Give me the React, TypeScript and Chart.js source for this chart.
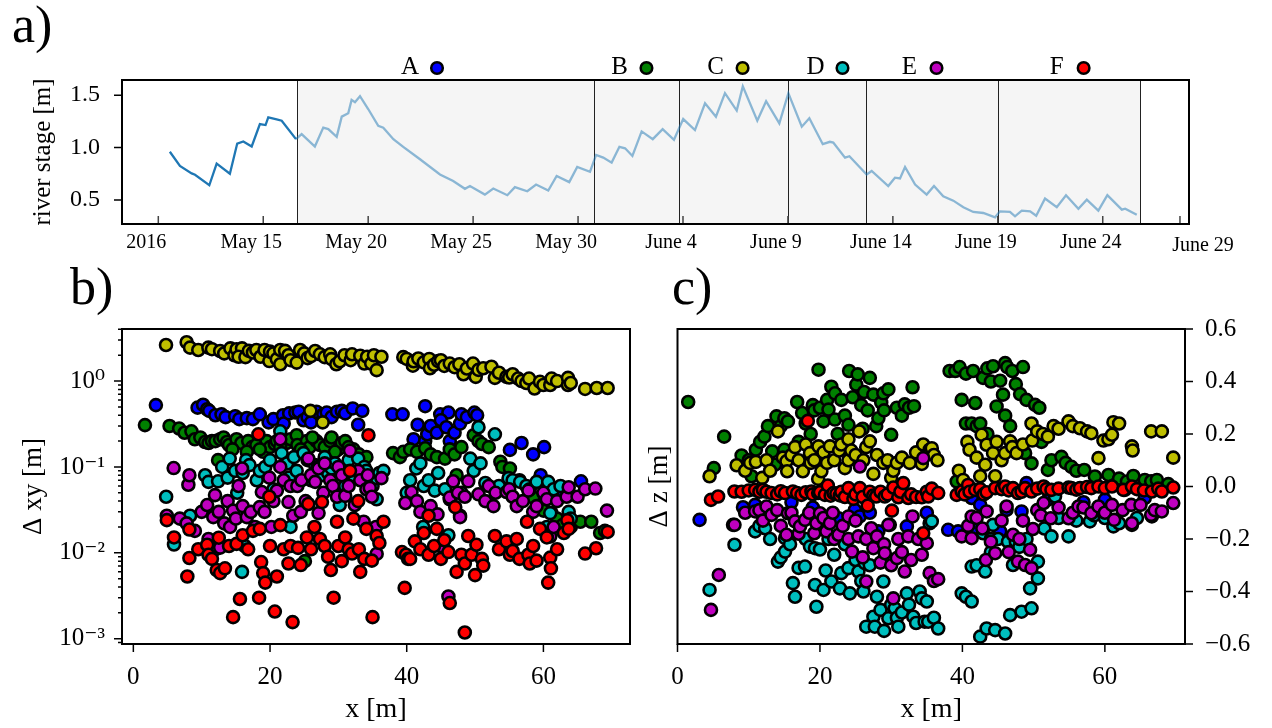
import React, { useEffect, useRef } from 'react';
import { Chart, registerables } from 'chart.js';

Chart.register(...registerables);

const FONT = "'Liberation Serif', 'DejaVu Serif', serif";

// ---------------- Panel a: river stage ----------------
// day number counted from May 1 2016 (May 31 = 31, June 1 = 32)
const stageDays = [
  10.55, 11.03, 11.59, 11.75, 12.43, 12.78, 13.41, 13.76, 14.05, 14.45, 14.84, 15.11, 15.24, 15.64, 15.88, 16.56,
  16.83, 17.46, 17.86, 18.10, 18.50, 18.74, 19.05, 19.21, 19.37, 19.61, 20.00, 20.48, 20.72, 21.20, 21.67, 22.47,
  23.42, 24.05, 24.61, 24.85, 25.56, 25.96, 26.63, 26.99, 27.58, 28.00, 28.58, 28.98, 29.58, 29.96, 30.57, 30.86,
  31.20, 31.60, 31.97, 32.24, 32.59, 33.03, 33.56, 34.03, 34.57, 35.01, 35.57, 36.05, 36.57, 37.00, 37.56, 37.85,
  38.54, 38.96, 39.59, 40.02, 40.66, 41.02, 41.66, 42.00, 42.16, 42.72, 42.93, 43.75, 43.99, 44.78, 45.10, 45.34,
  45.58, 46.06, 46.61, 46.96, 47.40, 47.88, 48.36, 48.83, 49.31, 49.87, 50.10, 50.58, 50.82, 51.14, 51.54, 51.83,
  52.25, 52.81, 53.25, 53.84, 54.24, 54.79, 55.22, 55.91, 56.07, 56.62,
];
const stageValues = [
  0.96, 0.824, 0.753, 0.74, 0.64, 0.846, 0.75, 1.038, 1.058, 1.01, 1.224, 1.215, 1.288, 1.27, 1.256, 1.08,
  1.128, 1.01, 1.19, 1.176, 1.103, 1.295, 1.327, 1.455, 1.433, 1.49, 1.368, 1.208, 1.19, 1.08, 1.007, 0.888,
  0.743, 0.68, 0.606, 0.632, 0.551, 0.609, 0.545, 0.622, 0.583, 0.647, 0.59, 0.728, 0.67, 0.814, 0.769, 0.93,
  0.904, 0.856, 1.007, 0.993, 0.92, 1.154, 1.08, 1.176, 1.074, 1.272, 1.167, 1.423, 1.295, 1.519, 1.353, 1.584,
  1.256, 1.442, 1.231, 1.519, 1.199, 1.279, 1.032, 1.055, 1.048, 0.904, 0.917, 0.743, 0.776, 0.632, 0.712, 0.705,
  0.814, 0.647, 0.551, 0.632, 0.535, 0.493, 0.43, 0.385, 0.375, 0.334, 0.391, 0.385, 0.343, 0.397, 0.391, 0.349,
  0.513, 0.43, 0.545, 0.416, 0.503, 0.397, 0.545, 0.407, 0.416, 0.359,
];
const boundaryDays = [16.61, 30.76, 34.79, 40.0, 43.72, 50.03, 56.78];
const epochNames = ['A', 'B', 'C', 'D', 'E', 'F'];
const epochColors = ['#0000ff', '#008000', '#bfbf00', '#00bfbf', '#bf00bf', '#ff0000'];
const epochLabelDays = [22.66, 32.64, 37.22, 41.98, 46.46, 53.47];
const aTickDays = [10, 15, 20, 25, 30, 35, 40, 45, 50, 55, 58.68];
const aTickLabels = ['2016', 'May 15', 'May 20', 'May 25', 'May 30', 'June 4', 'June 9', 'June 14', 'June 19', 'June 24', 'June 29'];
const aYTicks = [0.5, 1.0, 1.5];

// ---------------- Panel b: horizontal displacement (x [m], dxy [m]) ----------------
type Pt = [number, number];
const bA: Pt[] = [
  [3.3, 0.525], [9.4, 0.49], [10.2, 0.53], [10.8, 0.47], [11.1, 0.45], [12.0, 0.4], [12.9, 0.41], [13.5, 0.38], [14.9, 0.39],
  [15.5, 0.36], [16.6, 0.37], [17.5, 0.36], [18.5, 0.41], [19.8, 0.33], [20.5, 0.36], [21.9, 0.4], [22.0, 0.32], [22.8, 0.42],
  [23.7, 0.43], [24.2, 0.44], [24.9, 0.35], [25.5, 0.38], [26.0, 0.33], [26.8, 0.44], [27.8, 0.41], [28.3, 0.43], [29.0, 0.38],
  [29.8, 0.44], [30.5, 0.45], [31.0, 0.42], [32.1, 0.48], [32.9, 0.31], [33.5, 0.45], [37.9, 0.41], [39.4, 0.41], [42.7, 0.51],
  [44.9, 0.41], [46.1, 0.43], [41.6, 0.31], [41.0, 0.21], [42.7, 0.2], [43.0, 0.24], [43.5, 0.3], [44.4, 0.25], [45.0, 0.35],
  [45.8, 0.29], [46.3, 0.2], [47.0, 0.25], [47.8, 0.32], [48.0, 0.41], [48.8, 0.38], [49.9, 0.43], [50.3, 0.4], [55.1, 0.158],
  [56.8, 0.19], [58.5, 0.14], [60.1, 0.17], [59.6, 0.08], [65.5, 0.068], [62.9, 0.048],
];
const bB: Pt[] = [
  [1.7, 0.307], [5.3, 0.3], [6.7, 0.28], [7.5, 0.25], [8.5, 0.26], [9.0, 0.21], [9.8, 0.22], [10.5, 0.195], [11.0, 0.19],
  [11.5, 0.2], [12.0, 0.2], [12.7, 0.21], [13.2, 0.22], [13.7, 0.195], [14.0, 0.18], [15.1, 0.21], [15.8, 0.19], [16.8, 0.2],
  [17.4, 0.17], [18.0, 0.18], [19.0, 0.15], [19.5, 0.2], [20.0, 0.17], [20.7, 0.185], [21.0, 0.2], [12.4, 0.12], [16.6, 0.15],
  [18.5, 0.16], [22.4, 0.19], [23.0, 0.21], [23.9, 0.234], [24.0, 0.18], [25.4, 0.2], [25.8, 0.17], [26.8, 0.2], [27.3, 0.18],
  [28.0, 0.17], [28.8, 0.2], [29.0, 0.22], [30.0, 0.16], [30.5, 0.19], [31.0, 0.2], [32.2, 0.16], [33.0, 0.14], [34.1, 0.13],
  [25.1, 0.008], [21.5, 0.17], [24.5, 0.16], [26.2, 0.22], [29.5, 0.15], [31.5, 0.17], [14.5, 0.16], [38.0, 0.145], [39.0, 0.13],
  [39.5, 0.15], [40.5, 0.16], [41.5, 0.15], [42.7, 0.165], [43.5, 0.14], [44.4, 0.13], [45.6, 0.125], [46.3, 0.16], [47.0, 0.14],
  [48.0, 0.17], [49.8, 0.234], [50.5, 0.2], [51.0, 0.185], [52.0, 0.17], [53.7, 0.115], [54.0, 0.1], [55.1, 0.096], [56.5, 0.07],
  [60.0, 0.031], [61.2, 0.029], [62.0, 0.025], [64.0, 0.02], [65.4, 0.023], [67.0, 0.023], [68.3, 0.017], [69.0, 0.018],
  [62.8, 0.021], [58.5, 0.044], [47.3, 0.08],
];
const bC: Pt[] = [
  [4.78, 2.63], [7.8, 2.83], [8.3, 2.45], [9.5, 2.3], [10.98, 2.45], [11.5, 2.35], [12.7, 2.24], [13.3, 2.1], [14.2, 2.4],
  [14.8, 2.0], [15.1, 2.35], [15.9, 2.4], [15.4, 1.92], [16.4, 1.9], [16.9, 2.25], [17.5, 2.15], [18.0, 2.3], [18.6, 1.92],
  [19.2, 2.3], [19.9, 1.71], [20.0, 2.2], [20.5, 2.1], [21.0, 1.8], [21.5, 2.3], [21.5, 1.57], [22.2, 2.25], [22.7, 2.0],
  [23.0, 1.75], [23.9, 1.64], [24.4, 2.3], [25.0, 2.1], [25.5, 1.85], [26.0, 1.95], [26.6, 2.24], [27.3, 2.05], [28.0, 1.9],
  [28.8, 2.05], [29.0, 1.8], [29.7, 1.57], [30.2, 1.7], [30.9, 2.0], [31.8, 1.75], [32.0, 2.05], [33.2, 1.97], [33.8, 1.6],
  [34.2, 1.92], [34.8, 1.6], [35.2, 2.0], [35.6, 1.34], [36.3, 1.92], [39.5, 1.9], [40.0, 1.81], [40.9, 1.51], [41.0, 1.7],
  [41.7, 1.83], [42.5, 1.65], [43.3, 1.81], [43.4, 1.41], [44.0, 1.55], [44.6, 1.71], [45.0, 1.75], [45.5, 1.5], [46.3, 1.6],
  [47.0, 1.45], [47.7, 1.57], [48.3, 1.2], [48.8, 1.4], [49.7, 1.6], [50.1, 1.12], [50.5, 1.35], [51.2, 1.41], [52.4, 1.47],
  [52.9, 1.09], [53.5, 1.25], [54.6, 1.12], [55.0, 1.1], [55.5, 1.2], [56.3, 1.07], [56.8, 1.0], [57.5, 0.95], [57.9, 1.07],
  [58.7, 0.82], [59.5, 0.98], [60.0, 0.9], [61.0, 0.9], [61.2, 1.07], [62.0, 1.0], [63.6, 0.9], [63.6, 1.09], [64.0, 0.95],
  [66.1, 0.81], [67.8, 0.83], [69.4, 0.83], [25.9, 0.45], [27.7, 0.33],
];
const bD: Pt[] = [
  [4.8, 0.045], [5.95, 0.0125], [8.3, 0.027], [10.5, 0.08], [11.0, 0.067], [12.0, 0.011], [12.4, 0.068], [13.0, 0.1],
  [13.8, 0.075], [14.1, 0.125], [14.9, 0.09], [15.2, 0.05], [15.9, 0.006], [16.0, 0.085], [16.3, 0.012], [16.5, 0.12],
  [17.0, 0.105], [18.05, 0.07], [18.5, 0.09], [19.3, 0.1], [20.0, 0.12], [20.5, 0.055], [21.7, 0.145], [21.5, 0.26],
  [22.5, 0.11], [22.8, 0.075], [23.0, 0.02], [23.5, 0.13], [23.9, 0.09], [24.9, 0.145], [25.5, 0.12], [26.0, 0.07],
  [26.6, 0.105], [27.0, 0.1], [27.5, 0.08], [28.0, 0.13], [28.5, 0.085], [29.0, 0.096], [29.5, 0.11], [30.2, 0.036],
  [30.5, 0.095], [31.0, 0.06], [31.5, 0.12], [32.2, 0.08], [32.9, 0.125], [33.4, 0.07], [33.8, 0.1], [34.1, 0.09],
  [35.0, 0.06], [35.6, 0.074], [35.6, 0.042], [36.0, 0.085], [36.6, 0.09], [40.0, 0.05], [40.5, 0.07], [41.4, 0.096],
  [42.0, 0.11], [42.4, 0.02], [42.5, 0.06], [43.2, 0.07], [44.1, 0.053], [44.6, 0.085], [45.6, 0.055], [46.1, 0.016],
  [46.3, 0.042], [47.8, 0.027], [48.0, 0.05], [49.3, 0.125], [49.8, 0.09], [50.5, 0.29], [50.8, 0.11], [51.5, 0.065],
  [52.9, 0.24], [53.5, 0.06], [54.9, 0.074], [55.5, 0.07], [56.6, 0.067], [57.5, 0.06], [58.0, 0.055], [59.0, 0.067],
  [60.5, 0.02], [60.7, 0.067], [61.0, 0.029], [61.5, 0.055], [62.5, 0.06], [63.7, 0.03], [64.0, 0.025],
];
const bE: Pt[] = [
  [4.9, 0.027], [5.9, 0.097], [6.8, 0.025], [7.8, 0.022], [8.05, 0.062], [8.2, 0.08], [9.0, 0.018], [10.0, 0.03],
  [10.8, 0.036], [11.0, 0.0145], [11.7, 0.026], [11.95, 0.047], [12.5, 0.03], [12.7, 0.0115], [13.3, 0.022], [13.8, 0.04],
  [14.15, 0.02], [14.6, 0.031], [15.0, 0.025], [15.4, 0.06], [15.9, 0.096], [16.0, 0.035], [16.6, 0.026], [17.2, 0.03],
  [17.8, 0.02], [18.5, 0.034], [18.8, 0.051], [19.2, 0.03], [19.9, 0.075], [20.2, 0.02], [20.5, 0.04], [21.0, 0.053],
  [21.5, 0.1], [21.5, 0.21], [22.0, 0.07], [22.7, 0.039], [23.0, 0.06], [23.4, 0.027], [24.0, 0.06], [24.5, 0.03],
  [24.6, 0.07], [25.2, 0.04], [25.6, 0.125], [26.0, 0.08], [26.6, 0.067], [27.1, 0.096], [27.1, 0.029], [27.8, 0.05],
  [28.0, 0.11], [28.8, 0.07], [29.2, 0.06], [29.8, 0.045], [30.0, 0.1], [30.5, 0.08], [31.0, 0.046], [31.5, 0.06],
  [31.7, 0.155], [32.4, 0.036], [32.9, 0.09], [33.2, 0.07], [33.7, 0.023], [34.1, 0.055], [34.3, 0.08], [34.6, 0.057],
  [34.9, 0.045], [35.5, 0.02], [35.6, 0.0097], [36.3, 0.074], [39.8, 0.038], [40.7, 0.051], [41.5, 0.04], [42.0, 0.03],
  [43.5, 0.035], [44.5, 0.028], [45.0, 0.012], [46.1, 0.0031], [46.3, 0.044], [46.8, 0.068], [47.5, 0.05], [47.8, 0.026],
  [48.5, 0.045], [49.0, 0.068], [50.5, 0.048], [51.5, 0.04], [52.0, 0.06], [52.7, 0.035], [53.0, 0.05], [54.6, 0.051],
  [55.0, 0.055], [55.5, 0.045], [56.1, 0.035], [57.0, 0.04], [57.8, 0.053], [58.5, 0.03], [59.0, 0.035], [60.0, 0.05],
  [60.5, 0.042], [61.0, 0.0155], [61.5, 0.02], [62.0, 0.04], [63.4, 0.045], [63.7, 0.058], [65.0, 0.045], [66.1, 0.055],
  [67.6, 0.056], [69.3, 0.031],
];
const bF: Pt[] = [
  [4.9, 0.024], [5.95, 0.0151], [8.2, 0.0187], [8.2, 0.0087], [7.9, 0.0053], [9.5, 0.011], [10.8, 0.0124], [11.0, 0.0095],
  [11.5, 0.0085], [12.2, 0.0063], [12.5, 0.015], [12.7, 0.0058], [13.4, 0.0066], [14.0, 0.012], [14.6, 0.00178], [15.1, 0.0127],
  [15.6, 0.0029], [16.0, 0.016], [16.8, 0.011], [17.5, 0.018], [18.3, 0.24], [18.4, 0.003], [18.5, 0.019], [18.7, 0.0078],
  [19.0, 0.0058], [19.3, 0.0045], [19.9, 0.045], [20.0, 0.012], [20.7, 0.00207], [21.0, 0.0053], [21.5, 0.021], [22.0, 0.011],
  [22.7, 0.0075], [23.0, 0.012], [23.3, 0.00156], [24.1, 0.0114], [24.5, 0.0072], [25.4, 0.0151], [25.6, 0.037], [26.0, 0.011],
  [26.5, 0.02], [27.3, 0.0145], [27.6, 0.039], [28.0, 0.012], [28.5, 0.009], [28.9, 0.0063], [29.3, 0.003], [29.8, 0.023],
  [30.0, 0.012], [30.5, 0.008], [31.0, 0.0151], [31.5, 0.011], [31.7, 0.09], [32.0, 0.0098], [32.2, 0.025], [32.9, 0.04],
  [33.0, 0.011], [33.2, 0.006], [33.8, 0.0085], [34.1, 0.019], [34.4, 0.234], [34.9, 0.0081], [35.0, 0.00178], [35.6, 0.0157],
  [36.0, 0.013], [36.6, 0.023], [39.3, 0.0102], [39.7, 0.0039], [39.9, 0.0095], [40.2, 0.0085], [40.5, 0.0085], [41.2, 0.0136],
  [42.0, 0.011], [42.5, 0.017], [43.2, 0.027], [43.2, 0.0095], [44.0, 0.012], [44.4, 0.019], [45.0, 0.0085], [45.5, 0.014],
  [46.1, 0.0102], [46.3, 0.0026], [47.1, 0.034], [47.3, 0.006], [48.0, 0.0095], [48.5, 0.00118], [48.5, 0.0075], [49.0, 0.0157],
  [49.5, 0.0095], [50.0, 0.0055], [50.2, 0.0124], [51.0, 0.0085], [51.2, 0.0071], [52.9, 0.0157], [53.5, 0.011], [54.6, 0.0136],
  [55.1, 0.0095], [55.5, 0.0105], [56.1, 0.0145], [56.5, 0.0085], [57.6, 0.023], [57.8, 0.0095], [58.0, 0.0075], [58.5, 0.012],
  [59.0, 0.0081], [59.5, 0.019], [60.5, 0.0151], [60.7, 0.0045], [61.0, 0.0088], [61.1, 0.0066], [62.0, 0.011], [63.0, 0.017],
  [63.5, 0.024], [63.7, 0.019], [66.1, 0.0098], [67.7, 0.0113], [69.4, 0.0175],
];
const bSeries = [bA, bB, bC, bD, bE, bF];
const bYMin = 0.000867;
const bYMax = 4.04;
const bMajorTicks = [0.001, 0.01, 0.1, 1];
const bMajorLabels = ['10⁻³', '10⁻²', '10⁻¹', '10⁰'];
const xTicks = [0, 20, 40, 60];

// ---------------- Panel c: vertical displacement (x [m], dz [m]) ----------------
const cA: Pt[] = [
  [3.1, -0.127], [9.2, -0.079], [10.9, -0.07], [16.0, -0.06], [19.0, -0.08], [22.6, -0.121], [24.9, -0.089], [25.6, -0.114],
  [27.0, -0.1], [28.2, -0.171], [29.8, -0.146], [32.2, -0.152], [35.0, -0.1], [38.0, -0.165], [39.4, -0.171], [41.3, -0.044],
  [41.8, -0.159], [42.5, -0.07], [45.3, -0.171], [46.2, -0.089], [48.3, -0.095], [49.0, 0.013], [52.0, -0.05], [57.0, -0.06],
  [60.0, -0.05], [62.8, -0.013], [65.6, -0.044],
];
const cB: Pt[] = [
  [1.5, 0.322], [5.1, 0.07], [6.55, 0.19], [9.0, 0.118], [10.0, 0.1], [10.4, 0.039], [11.0, 0.14], [11.6, 0.17], [12.2, 0.19],
  [12.7, 0.23], [13.3, 0.134], [13.7, 0.083], [13.9, 0.267], [14.5, 0.23], [15.0, 0.26], [15.0, 0.14], [15.5, 0.248],
  [16.0, 0.108], [16.8, 0.322], [17.0, 0.17], [17.5, 0.28], [18.0, 0.24], [18.6, 0.12], [18.7, 0.2], [19.0, 0.31], [19.2, 0.29],
  [19.8, 0.445], [20.0, 0.3], [20.5, 0.248], [21.0, 0.33], [21.2, 0.293], [21.6, 0.38], [22.1, 0.255], [22.1, 0.355],
  [22.5, 0.2], [23.0, 0.33], [23.5, 0.27], [24.0, 0.235], [24.1, 0.44], [24.6, 0.34], [25.1, 0.388], [25.3, 0.427], [25.8, 0.31],
  [26.0, 0.22], [26.2, 0.36], [26.7, 0.29], [27.0, 0.414], [27.5, 0.35], [27.9, 0.23], [28.2, 0.26], [28.6, 0.32], [28.9, 0.355],
  [29.0, 0.29], [29.6, 0.37], [30.0, 0.197], [30.8, 0.3], [31.5, 0.27], [31.9, 0.313], [32.5, 0.3], [33.0, 0.378], [33.2, 0.306],
  [38.2, 0.44], [39.0, 0.44], [39.2, 0.019], [39.6, 0.455], [39.9, 0.33], [40.5, 0.43], [40.5, 0.24], [41.3, 0.24], [41.5, 0.44],
  [41.8, 0.318], [42.0, 0.23], [42.5, 0.24], [42.9, 0.414], [43.5, 0.45], [43.5, 0.2], [44.0, 0.4], [44.3, 0.458], [44.8, 0.305],
  [45.3, 0.403], [45.7, 0.35], [46.0, 0.47], [46.0, 0.27], [46.3, 0.455], [46.7, 0.23], [47.0, 0.44], [47.5, 0.39], [48.1, 0.352],
  [48.5, 0.455], [48.8, 0.127], [49.0, 0.33], [49.7, 0.088], [50.2, 0.311], [50.8, 0.3], [51.1, 0.17], [52.0, 0.063], [52.5, 0.1],
  [53.9, 0.113], [54.5, 0.09], [55.3, 0.075], [56.0, 0.06], [57.1, 0.063], [58.6, 0.038], [60.5, 0.044], [62.0, 0.03],
  [63.1, 0.019], [64.0, 0.04], [65.6, 0.025], [66.5, 0.02], [67.3, 0.025], [68.9, 0.009],
];
const cC: Pt[] = [
  [4.5, 0.039], [8.3, 0.081], [9.5, 0.06], [10.2, 0.09], [11.0, 0.094], [11.9, 0.033], [12.5, 0.1], [13.0, 0.06], [14.1, 0.21],
  [14.8, 0.11], [15.3, 0.096], [15.4, 0.058], [16.0, 0.12], [16.5, 0.15], [17.0, 0.1], [17.6, 0.058], [18.0, 0.16], [18.6, 0.127],
  [18.7, 0.09], [19.2, 0.1], [19.75, 0.029], [19.8, 0.153], [20.2, 0.058], [20.5, 0.13], [21.0, 0.09], [21.4, 0.153], [22.0, 0.1],
  [22.7, 0.137], [23.0, 0.16], [23.5, 0.07], [24.0, 0.18], [24.0, 0.1], [24.4, 0.137], [25.0, 0.12], [25.5, 0.21], [26.1, 0.1],
  [26.5, 0.15], [27.0, 0.172], [27.5, 0.048], [28.0, 0.12], [28.9, 0.09], [29.5, 0.1], [30.0, 0.033], [30.3, 0.06], [30.8, 0.09],
  [31.5, 0.11], [32.6, 0.09], [33.5, 0.13], [34.3, 0.086], [34.5, 0.16], [35.4, 0.14], [35.7, 0.146], [36.0, 0.12], [36.5, 0.1],
  [39.5, 0.06], [40.1, 0.025], [40.7, 0.17], [41.0, 0.14], [42.0, 0.11], [42.5, 0.039], [42.7, 0.197], [43.2, 0.083], [43.4, 0.159],
  [44.3, 0.127], [44.6, 0.039], [44.8, 0.17], [45.5, 0.1], [46.0, 0.127], [46.7, 0.172], [47.0, 0.15], [47.6, 0.127], [48.5, 0.16],
  [49.7, 0.24], [49.8, 0.175], [50.5, 0.21], [51.3, 0.2], [52.0, 0.19], [52.8, 0.23], [53.5, 0.22], [54.9, 0.248], [55.5, 0.23],
  [56.5, 0.222], [57.5, 0.21], [58.1, 0.203], [59.1, 0.108], [59.8, 0.175], [60.5, 0.18], [61.0, 0.197], [61.2, 0.245], [62.0, 0.24],
  [63.8, 0.153], [63.9, 0.137], [66.5, 0.21], [68.0, 0.21], [69.6, 0.11],
];
const cD: Pt[] = [
  [4.5, -0.394], [7.8, -0.146], [8.0, -0.222], [10.9, -0.171], [11.5, -0.15], [12.3, -0.159], [13.0, -0.2], [14.1, -0.286],
  [14.5, -0.27], [15.1, -0.248], [15.1, -0.197], [15.8, -0.22], [16.2, -0.368], [16.5, -0.42], [17.0, -0.31], [17.9, -0.305],
  [18.0, -0.2], [18.6, -0.229], [19.3, -0.375], [19.3, -0.235], [19.5, -0.458], [20.0, -0.24], [20.5, -0.394], [20.8, -0.32],
  [21.2, -0.2], [21.6, -0.362], [22.0, -0.26], [22.8, -0.388], [23.0, -0.33], [23.5, -0.22], [24.0, -0.311], [24.2, -0.407],
  [25.0, -0.28], [25.4, -0.324], [25.8, -0.36], [26.1, -0.4], [26.3, -0.292], [26.5, -0.534], [27.0, -0.3], [27.5, -0.496],
  [27.7, -0.534], [28.0, -0.42], [28.5, -0.47], [28.9, -0.362], [29.0, -0.55], [29.6, -0.502], [30.0, -0.45], [30.5, -0.464],
  [30.8, -0.5], [31.0, -0.534], [31.5, -0.48], [32.2, -0.407], [32.5, -0.45], [33.1, -0.496], [33.5, -0.52], [34.0, -0.4],
  [34.3, -0.426], [34.7, -0.515], [35.0, -0.438], [35.2, -0.515], [35.4, -0.14], [35.7, -0.133], [36.0, -0.5], [36.6, -0.541],
  [39.9, -0.407], [40.5, -0.42], [41.3, -0.438], [41.3, -0.305], [42.0, -0.3], [42.5, -0.572], [42.9, -0.178], [43.2, -0.324],
  [43.4, -0.541], [44.0, -0.25], [44.0, -0.2], [44.3, -0.146], [44.6, -0.547], [45.0, -0.2], [46.0, -0.56], [46.4, -0.21],
  [46.7, -0.49], [47.1, -0.299], [47.5, -0.21], [48.0, -0.23], [48.3, -0.477], [49.0, -0.2], [49.5, -0.388], [49.7, -0.464],
  [50.6, -0.35], [50.6, -0.286], [51.5, -0.16], [52.5, -0.19], [53.0, -0.038], [53.5, -0.12], [54.9, -0.19], [56.0, -0.13],
  [57.9, -0.133], [58.5, -0.11], [59.5, -0.095], [60.0, -0.12], [61.2, -0.152], [62.0, -0.14], [63.8, -0.146], [64.5, -0.12],
  [66.6, -0.114],
];
const cE: Pt[] = [
  [4.7, -0.47], [5.8, -0.337], [8.0, -0.146], [9.5, -0.1], [10.9, -0.095], [11.5, -0.09], [12.0, -0.13], [12.5, -0.076],
  [13.2, -0.108], [14.0, -0.09], [14.5, -0.15], [15.3, -0.184], [15.5, -0.102], [16.0, -0.1], [16.5, -0.133], [17.0, -0.18],
  [17.2, -0.152], [17.9, -0.127], [18.5, -0.1], [19.2, -0.178], [19.5, -0.14], [20.0, -0.102], [20.5, -0.12], [20.9, -0.171],
  [21.4, -0.14], [21.8, -0.1], [22.0, -0.2], [22.6, -0.184], [23.2, -0.15], [24.0, -0.114], [24.0, -0.2], [24.5, -0.248],
  [25.0, -0.13], [25.4, -0.19], [25.6, 0.076], [26.0, -0.27], [26.5, -0.362], [26.5, -0.2], [27.2, -0.159], [27.5, -0.235],
  [28.0, -0.19], [28.5, -0.29], [29.0, -0.22], [29.1, -0.254], [29.6, -0.146], [30.0, -0.3], [30.3, -0.426], [30.8, -0.273],
  [31.0, -0.2], [31.5, -0.25], [31.9, -0.324], [32.4, -0.19], [32.8, -0.28], [33.0, -0.114], [33.8, -0.2], [34.3, -0.26],
  [34.5, 0.108], [35.0, -0.216], [35.4, -0.33], [36.0, -0.36], [36.6, -0.353], [39.9, -0.19], [40.8, -0.15], [41.3, -0.114],
  [41.3, -0.197], [42.0, -0.12], [42.8, -0.16], [43.3, -0.28], [43.4, -0.095], [44.0, -0.21], [44.6, -0.254], [45.5, -0.13],
  [46.2, -0.076], [46.5, -0.25], [47.1, -0.184], [47.8, -0.286], [48.0, -0.2], [48.5, -0.13], [48.8, -0.299], [49.5, -0.241],
  [49.7, -0.311], [49.9, -0.162], [50.5, -0.09], [51.0, -0.11], [51.4, -0.063], [52.4, -0.121], [53.5, -0.08], [54.9, -0.121],
  [55.5, -0.1], [56.3, -0.076], [57.0, -0.08], [58.1, -0.102], [59.1, -0.076], [60.0, -0.1], [61.0, -0.07], [61.3, -0.127],
  [62.5, -0.09], [63.7, -0.07], [63.8, -0.14], [65.0, -0.07], [66.5, -0.108], [67.0, -0.09], [68.0, -0.095], [69.6, -0.063],
];
const cF: Pt[] = [
  [4.7, -0.051], [5.7, -0.038], [8.0, -0.019], [9.0, -0.02], [10.0, -0.015], [10.9, -0.013], [11.5, -0.02], [12.0, -0.013],
  [12.5, -0.02], [13.2, -0.025], [14.0, -0.03], [14.5, -0.018], [15.1, -0.025], [16.2, -0.019], [16.8, -0.025], [17.4, -0.032],
  [18.0, -0.022], [18.3, 0.25], [18.8, -0.019], [19.0, -0.03], [19.75, -0.025], [20.0, -0.022], [20.7, -0.032], [21.1, 0.004],
  [21.5, -0.035], [21.9, -0.025], [22.3, -0.028], [22.8, -0.034], [23.0, -0.02], [23.5, -0.04], [24.0, -0.006], [24.7, -0.047],
  [25.0, -0.03], [25.6, -0.006], [26.0, -0.04], [26.7, -0.073], [27.0, -0.02], [27.5, -0.034], [27.9, -0.038], [28.5, -0.02],
  [29.1, -0.038], [29.5, -0.03], [30.1, -0.092], [30.3, -0.004], [31.0, -0.041], [31.3, -0.02], [31.7, 0.013], [32.4, -0.044],
  [32.8, -0.03], [33.5, -0.04], [34.3, -0.041], [34.5, -0.178], [35.0, -0.02], [35.2, -0.038], [35.7, -0.008], [36.6, -0.025],
  [39.2, -0.032], [39.9, -0.019], [40.3, -0.03], [40.8, 0.006], [41.0, -0.02], [41.8, -0.013], [42.5, -0.01], [43.0, -0.03],
  [43.4, -0.022], [44.6, -0.006], [45.5, -0.01], [46.0, 0.0], [46.5, -0.015], [47.1, -0.006], [47.8, -0.025], [48.3, -0.02],
  [48.8, -0.006], [49.7, -0.019], [50.5, -0.008], [51.4, 0.0], [51.8, -0.01], [52.5, -0.013], [53.5, -0.008], [54.9, -0.004],
  [55.3, -0.006], [56.0, -0.012], [56.5, -0.006], [57.5, -0.002], [58.1, -0.006], [59.1, 0.0], [60.0, -0.006], [61.0, 0.0],
  [62.6, -0.013], [63.8, 0.0], [64.5, -0.01], [65.5, -0.015], [66.6, -0.019], [67.5, -0.008], [68.0, -0.019], [69.6, -0.004],
];
const cSeries = [cA, cB, cC, cD, cE, cF];
const cYTicks = [-0.6, -0.4, -0.2, 0.0, 0.2, 0.4, 0.6];
const cYLabels = ['−0.6', '−0.4', '−0.2', '0.0', '0.2', '0.4', '0.6'];

// ---------------- helpers ----------------
const toXY = (arr: Pt[]) => arr.map(([x, y]) => ({ x, y }));

function drawFrame(chart: any) {
  const { ctx, chartArea: a } = chart;
  ctx.save();
  ctx.strokeStyle = '#000';
  ctx.lineWidth = 2;
  ctx.strokeRect(a.left, a.top, a.right - a.left, a.bottom - a.top);
  ctx.restore();
}

function drawTickMarks(chart: any, id: string, side: string, len: number, inward: boolean, minorLen?: number, isMajor?: (v: number) => boolean, color = '#000') {
  const { ctx, chartArea: a } = chart;
  const scale = chart.scales[id];
  ctx.save();
  ctx.strokeStyle = color;
  ctx.lineWidth = 1.5;
  ctx.beginPath();
  for (const t of scale.ticks) {
    const p = scale.getPixelForValue(t.value);
    const L = isMajor && !isMajor(t.value) ? (minorLen || len) : len;
    if (side === 'bottom') {
      const y0 = a.bottom;
      ctx.moveTo(p, y0);
      ctx.lineTo(p, inward ? y0 - L : y0 + L);
    } else if (side === 'left') {
      const x0 = a.left;
      ctx.moveTo(x0, p);
      ctx.lineTo(inward ? x0 + L : x0 - L, p);
    } else {
      const x0 = a.right;
      ctx.moveTo(x0, p);
      ctx.lineTo(inward ? x0 - L : x0 + L, p);
    }
  }
  ctx.stroke();
  ctx.restore();
}

const noGrid = { display: false };
const noBorder = { display: false };

// ---------------- Panel a component ----------------
function StageChart() {
  const ref = useRef<HTMLCanvasElement>(null);
  useEffect(() => {
    const pts = stageDays.map((d, i) => ({ x: d, y: stageValues[i] }));
    const split = boundaryDays[0];
    const dark = pts.filter((p) => p.x <= split);
    const light = pts.slice(dark.length - 1);
    const chart = new Chart(ref.current as HTMLCanvasElement, {
      type: 'line',
      data: {
        datasets: [
          { data: dark, borderColor: '#1f77b4', borderWidth: 2.3, pointRadius: 0, tension: 0, fill: false },
          { data: light, borderColor: 'rgba(31,119,180,0.5)', borderWidth: 2.3, pointRadius: 0, tension: 0, fill: false },
        ],
      },
      options: {
        animation: false,
        responsive: false,
        layout: { padding: { top: 40, right: 83, left: 0, bottom: 0 } },
        plugins: { legend: { display: false }, tooltip: { enabled: false } },
        scales: {
          x: {
            type: 'linear',
            min: 8.27,
            max: 59.11,
            bounds: 'data',
            grid: noGrid,
            border: noBorder,
            afterBuildTicks: (s: any) => { s.ticks = aTickDays.map((v) => ({ value: v })); },
            afterFit: (s: any) => { s.height = 46; },
            ticks: { display: false },
          },
          y: {
            type: 'linear',
            min: 0.27,
            max: 1.645,
            bounds: 'data',
            grid: noGrid,
            border: noBorder,
            afterBuildTicks: (s: any) => { s.ticks = aYTicks.map((v) => ({ value: v })); },
            afterFit: (s: any) => { s.width = 122; },
            ticks: { padding: 14, color: '#000', font: { family: FONT, size: 24 }, callback: (v: any) => Number(v).toFixed(1) },
            title: { display: true, text: 'river stage [m]', color: '#000', font: { family: FONT, size: 25 }, padding: { top: 28, bottom: 0 } },
          },
        },
      } as any,
      plugins: [
        {
          id: 'stageDecor',
          beforeDatasetsDraw(c: any) {
            const { ctx, chartArea: a, scales } = c;
            const xs = scales.x;
            const x0 = xs.getPixelForValue(boundaryDays[0]);
            const x1 = xs.getPixelForValue(boundaryDays[boundaryDays.length - 1]);
            ctx.save();
            ctx.fillStyle = '#f5f5f5';
            ctx.fillRect(x0, a.top, x1 - x0, a.bottom - a.top);
            ctx.strokeStyle = '#222';
            ctx.lineWidth = 1;
            ctx.beginPath();
            for (const d of boundaryDays) {
              const px = Math.round(xs.getPixelForValue(d)) + 0.5;
              ctx.moveTo(px, a.top);
              ctx.lineTo(px, a.bottom);
            }
            ctx.stroke();
            ctx.restore();
          },
          afterDraw(c: any) {
            const { ctx, scales, chartArea: a } = c;
            drawTickMarks(c, 'y', 'left', 8, false);
            drawTickMarks(c, 'x', 'bottom', 8, true, undefined, undefined, '#444');
            drawFrame(c);
            ctx.save();
            // date tick labels (drawn slightly left of their ticks as in the source; the last one sits past the frame)
            ctx.font = `20px ${FONT}`;
            ctx.fillStyle = '#000';
            ctx.textAlign = 'center';
            ctx.textBaseline = 'middle';
            const last = aTickDays.length - 1;
            aTickDays.forEach((d, i) => {
              const px = scales.x.getPixelForValue(d) + (i === last ? 23 : -12);
              ctx.fillText(aTickLabels[i], px, a.bottom + (i === last ? 22 : 19));
            });
            // epoch labels with coloured markers
            ctx.font = `25px ${FONT}`;
            epochNames.forEach((n, i) => {
              const px = scales.x.getPixelForValue(epochLabelDays[i]);
              ctx.fillStyle = '#000';
              ctx.fillText(n, px - 14, 27);
              ctx.beginPath();
              ctx.arc(px + 13, 28, 5.8, 0, Math.PI * 2);
              ctx.fillStyle = epochColors[i];
              ctx.fill();
              ctx.lineWidth = 2.5;
              ctx.strokeStyle = '#000';
              ctx.stroke();
            });
            ctx.restore();
          },
        },
      ],
    } as any);
    return () => chart.destroy();
  }, []);
  return <canvas ref={ref} width={1272} height={230} style={{ position: 'absolute', left: 0, top: 40, display: 'block' }} />;
}

function scatterDatasets(series: Pt[][], yAxisID: string) {
  return series.map((s, i) => ({
    label: epochNames[i],
    data: toXY(s),
    backgroundColor: epochColors[i],
    borderColor: '#000',
    borderWidth: 2.6,
    pointRadius: 6,
    pointHoverRadius: 6,
    order: series.length - i,
    yAxisID,
  }));
}

// ---------------- Panel b component ----------------
function DxyChart() {
  const ref = useRef<HTMLCanvasElement>(null);
  useEffect(() => {
    const isMajor = (v: number) => bMajorTicks.some((m) => Math.abs(m - v) / m < 1e-6);
    const logTicks: number[] = [];
    for (let e = -4; e <= 0; e++) {
      for (let m = 1; m <= 9; m++) {
        const v = m * Math.pow(10, e);
        if (v >= bYMin && v <= bYMax) logTicks.push(v);
      }
    }
    const chart = new Chart(ref.current as HTMLCanvasElement, {
      type: 'scatter',
      data: { datasets: scatterDatasets(bSeries, 'y') },
      options: {
        animation: false,
        responsive: false,
        layout: { padding: { top: 29, right: 10, left: 0, bottom: 0 } },
        plugins: { legend: { display: false }, tooltip: { enabled: false } },
        scales: {
          x: {
            type: 'linear', min: -1.66, max: 72.67, bounds: 'data', grid: noGrid, border: noBorder,
            afterBuildTicks: (s: any) => { s.ticks = xTicks.map((v) => ({ value: v })); },
            afterFit: (s: any) => { s.height = 84; },
            ticks: { autoSkip: false, maxRotation: 0, padding: 10, color: '#000', font: { family: FONT, size: 25 } },
            title: { display: true, text: 'x [m]', color: '#000', font: { family: FONT, size: 28 }, padding: { top: 0, bottom: 2 } },
          },
          y: {
            type: 'logarithmic', min: bYMin, max: bYMax, bounds: 'data', grid: noGrid, border: noBorder,
            afterBuildTicks: (s: any) => { s.ticks = logTicks.map((v) => ({ value: v })); },
            afterFit: (s: any) => { s.width = 122; },
            ticks: {
              autoSkip: false, padding: 9, color: '#000', font: { family: FONT, size: 25 },
              callback: (v: any) => {
                const idx = bMajorTicks.findIndex((m) => Math.abs(m - v) / m < 1e-6);
                return idx >= 0 ? bMajorLabels[idx] : '';
              },
            },
            title: { display: true, text: 'Δ xy [m]', color: '#000', font: { family: FONT, size: 27 }, padding: { top: 18, bottom: 0 } },
          },
        },
      } as any,
      plugins: [
        {
          id: 'bDecor',
          afterDraw(c: any) {
            drawTickMarks(c, 'y', 'left', 8, false, 4, isMajor);
            drawTickMarks(c, 'x', 'bottom', 8, false);
            drawFrame(c);
          },
        },
      ],
    } as any);
    return () => chart.destroy();
  }, []);
  return <canvas ref={ref} width={640} height={428} style={{ position: 'absolute', left: 0, top: 300, display: 'block' }} />;
}

// ---------------- Panel c component ----------------
function DzChart() {
  const ref = useRef<HTMLCanvasElement>(null);
  useEffect(() => {
    const chart = new Chart(ref.current as HTMLCanvasElement, {
      type: 'scatter',
      data: { datasets: scatterDatasets(cSeries, 'y') },
      options: {
        animation: false,
        responsive: false,
        layout: { padding: { top: 29, right: 0, left: 0, bottom: 0 } },
        plugins: { legend: { display: false }, tooltip: { enabled: false } },
        scales: {
          y: {
            type: 'linear', position: 'right', min: -0.6, max: 0.6, bounds: 'data', grid: noGrid, border: noBorder,
            afterBuildTicks: (s: any) => { s.ticks = cYTicks.map((v) => ({ value: v })); },
            afterFit: (s: any) => { s.width = 87; },
            ticks: { autoSkip: false, padding: 12, color: '#000', font: { family: FONT, size: 25 }, callback: (_v: any, i: number) => cYLabels[i] },
          },
          yl: {
            type: 'linear', position: 'left', grid: noGrid, border: noBorder,
            ticks: { display: false },
            afterFit: (s: any) => { s.width = 37.5; },
            title: { display: true, text: 'Δ z [m]', color: '#000', font: { family: FONT, size: 27 }, padding: { top: 4, bottom: 0 } },
          },
          x: {
            type: 'linear', min: 0, max: 71.25, bounds: 'data', grid: noGrid, border: noBorder,
            afterBuildTicks: (s: any) => { s.ticks = xTicks.map((v) => ({ value: v })); },
            afterFit: (s: any) => { s.height = 84; },
            ticks: { autoSkip: false, maxRotation: 0, padding: 10, color: '#000', font: { family: FONT, size: 25 } },
            title: { display: true, text: 'x [m]', color: '#000', font: { family: FONT, size: 28 }, padding: { top: 0, bottom: 2 } },
          },
        },
      } as any,
      plugins: [
        {
          id: 'cDecor',
          afterDraw(c: any) {
            drawTickMarks(c, 'y', 'right', 8, false);
            drawTickMarks(c, 'x', 'bottom', 8, false);
            drawFrame(c);
          },
        },
      ],
    } as any);
    return () => chart.destroy();
  }, []);
  return <canvas ref={ref} width={632} height={428} style={{ position: 'absolute', left: 640, top: 300, display: 'block' }} />;
}

export default function App() {
  const letter = { position: 'absolute' as const, fontFamily: FONT, fontSize: 52, lineHeight: '52px', color: '#000' };
  return (
    <div style={{ position: 'fixed', left: 0, top: 0, width: 1272, height: 728, background: '#fff', overflow: 'hidden' }}>
      <StageChart />
      <DxyChart />
      <DzChart />
      <div style={{ ...letter, left: 12, top: -1 }}>a)</div>
      <div style={{ ...letter, left: 70, top: 261 }}>b)</div>
      <div style={{ ...letter, left: 672, top: 261 }}>c)</div>
    </div>
  );
}
